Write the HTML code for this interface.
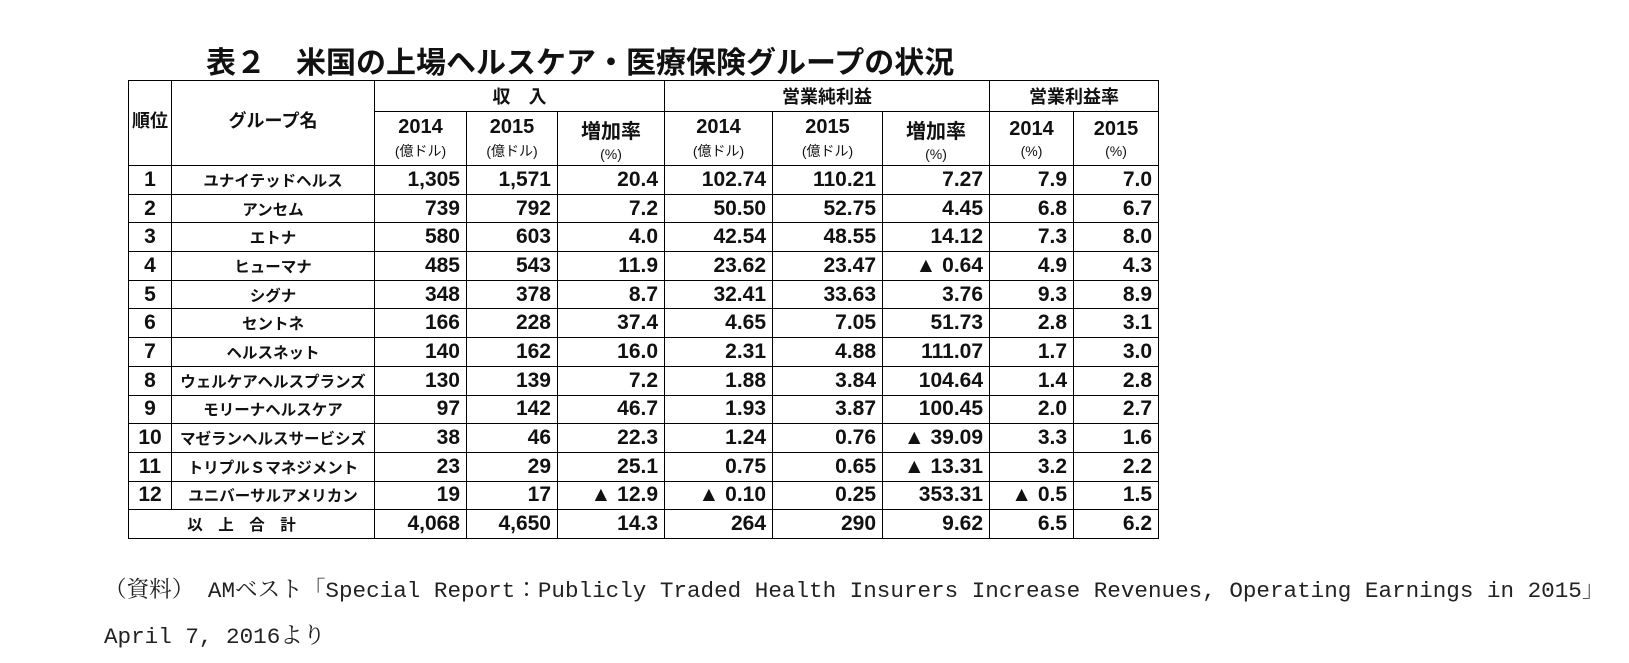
<!DOCTYPE html>
<html><head><meta charset="utf-8">
<style>
html,body{margin:0;padding:0;background:#fff;}
body{width:1629px;height:663px;position:relative;overflow:hidden;font-family:"Liberation Sans","Noto Sans CJK JP",sans-serif;color:#111;}
#title{position:absolute;left:206px;top:38px;font-size:30px;font-weight:bold;white-space:nowrap;}
table{position:absolute;left:128px;top:80px;border-collapse:collapse;table-layout:fixed;width:1030px;}
td,th{border:1.3px solid #000;padding:0;font-weight:bold;}
th{font-size:18px;text-align:center;vertical-align:middle;}
th .u{display:block;font-size:14px;font-weight:normal;margin-top:2px;}
th .y{display:block;font-size:20px;}
td{font-size:21px;height:27.7px;text-align:right;padding-right:6px;vertical-align:middle;}
td.c{text-align:center;padding-right:0;}
td.n{text-align:center;padding-right:0;font-size:15.5px;}
.foot{position:absolute;left:104px;font-family:"Liberation Mono","Noto Serif CJK JP",monospace;font-size:22.6px;white-space:nowrap;color:#222;}
</style></head>
<body>
<div id="title">表２　米国の上場ヘルスケア・医療保険グループの状況</div>
<table>
<colgroup><col style="width:43px"><col style="width:203px"><col style="width:92px"><col style="width:91px"><col style="width:107px"><col style="width:108px"><col style="width:110px"><col style="width:107px"><col style="width:84px"><col style="width:85px"></colgroup>
<tr style="height:31px">
<th rowspan="2" style="vertical-align:top;padding-top:26px">順位</th>
<th rowspan="2" style="vertical-align:top;padding-top:26px">グループ名</th>
<th colspan="3">収　入</th>
<th colspan="3">営業純利益</th>
<th colspan="2">営業利益率</th>
</tr>
<tr style="height:54px">
<th><span class="y">2014</span><span class="u">(億ドル)</span></th>
<th><span class="y">2015</span><span class="u">(億ドル)</span></th>
<th><span class="y">増加率</span><span class="u">(%)</span></th>
<th><span class="y">2014</span><span class="u">(億ドル)</span></th>
<th><span class="y">2015</span><span class="u">(億ドル)</span></th>
<th><span class="y">増加率</span><span class="u">(%)</span></th>
<th><span class="y">2014</span><span class="u">(%)</span></th>
<th><span class="y">2015</span><span class="u">(%)</span></th>
</tr>
<tr><td class="c">1</td><td class="n">ユナイテッドヘルス</td><td>1,305</td><td>1,571</td><td>20.4</td><td>102.74</td><td>110.21</td><td>7.27</td><td>7.9</td><td>7.0</td></tr>
<tr><td class="c">2</td><td class="n">アンセム</td><td>739</td><td>792</td><td>7.2</td><td>50.50</td><td>52.75</td><td>4.45</td><td>6.8</td><td>6.7</td></tr>
<tr><td class="c">3</td><td class="n">エトナ</td><td>580</td><td>603</td><td>4.0</td><td>42.54</td><td>48.55</td><td>14.12</td><td>7.3</td><td>8.0</td></tr>
<tr><td class="c">4</td><td class="n">ヒューマナ</td><td>485</td><td>543</td><td>11.9</td><td>23.62</td><td>23.47</td><td>▲ 0.64</td><td>4.9</td><td>4.3</td></tr>
<tr><td class="c">5</td><td class="n">シグナ</td><td>348</td><td>378</td><td>8.7</td><td>32.41</td><td>33.63</td><td>3.76</td><td>9.3</td><td>8.9</td></tr>
<tr><td class="c">6</td><td class="n">セントネ</td><td>166</td><td>228</td><td>37.4</td><td>4.65</td><td>7.05</td><td>51.73</td><td>2.8</td><td>3.1</td></tr>
<tr><td class="c">7</td><td class="n">ヘルスネット</td><td>140</td><td>162</td><td>16.0</td><td>2.31</td><td>4.88</td><td>111.07</td><td>1.7</td><td>3.0</td></tr>
<tr><td class="c">8</td><td class="n">ウェルケアヘルスプランズ</td><td>130</td><td>139</td><td>7.2</td><td>1.88</td><td>3.84</td><td>104.64</td><td>1.4</td><td>2.8</td></tr>
<tr><td class="c">9</td><td class="n">モリーナヘルスケア</td><td>97</td><td>142</td><td>46.7</td><td>1.93</td><td>3.87</td><td>100.45</td><td>2.0</td><td>2.7</td></tr>
<tr><td class="c">10</td><td class="n">マゼランヘルスサービシズ</td><td>38</td><td>46</td><td>22.3</td><td>1.24</td><td>0.76</td><td>▲ 39.09</td><td>3.3</td><td>1.6</td></tr>
<tr><td class="c">11</td><td class="n">トリプルＳマネジメント</td><td>23</td><td>29</td><td>25.1</td><td>0.75</td><td>0.65</td><td>▲ 13.31</td><td>3.2</td><td>2.2</td></tr>
<tr><td class="c">12</td><td class="n">ユニバーサルアメリカン</td><td>19</td><td>17</td><td>▲ 12.9</td><td>▲ 0.10</td><td>0.25</td><td>353.31</td><td>▲ 0.5</td><td>1.5</td></tr>
<tr><td colspan="2" class="n" style="padding-right:20px">以　上　合　計</td><td>4,068</td><td>4,650</td><td>14.3</td><td>264</td><td>290</td><td>9.62</td><td>6.5</td><td>6.2</td></tr>
</table>
<div class="foot" style="top:572px">（資料） AMベスト「Special Report：Publicly Traded Health Insurers Increase Revenues, Operating Earnings in 2015」</div>
<div class="foot" style="top:618px">April 7, 2016より</div>
</body></html>
